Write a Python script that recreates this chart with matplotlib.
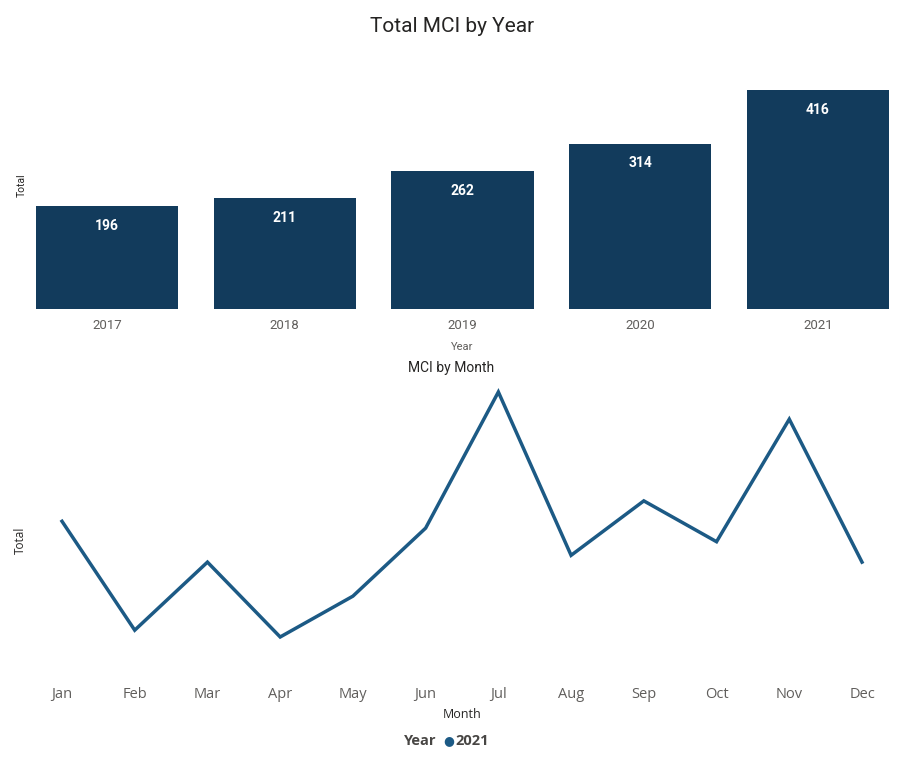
import matplotlib
matplotlib.use("Agg")
import matplotlib.pyplot as plt

years = ["2017", "2018", "2019", "2020", "2021"]
year_totals = [196, 211, 262, 314, 416]

months = ["Jan", "Feb", "Mar", "Apr", "May", "Jun", "Jul", "Aug", "Sep", "Oct", "Nov", "Dec"]
month_totals_2021 = [37, 21, 31, 20, 26, 36, 56, 32, 40, 34, 52, 31]

BAR_COLOR = "#123B5C"
LINE_COLOR = "#1C5A85"
TICK_COLOR = "#605E5C"
DARK = "#252423"

W, H = 897, 757
fig = plt.figure(figsize=(W / 100, H / 100), dpi=100)
fig.patch.set_facecolor("white")

def fx(px):
    return px / W

def fy(py):
    return 1 - py / H

# ---- Bar chart ----
ax1 = fig.add_axes([fx(36), fy(309), fx(889) - fx(36), (309 - 90) / H])
xs = range(len(years))
bars = ax1.bar(xs, year_totals, width=0.8, color=BAR_COLOR)
ax1.set_xlim(-0.4, len(years) - 0.6)
ax1.set_ylim(0, max(year_totals))
for b, v in zip(bars, year_totals):
    ax1.annotate(str(v), (b.get_x() + b.get_width() / 2, v), xytext=(0, -14.2),
                 textcoords="offset points", ha="center", va="center",
                 color="white", fontsize=10, fontweight="bold", family="Roboto")
ax1.set_xticks(list(xs))
ax1.set_xticklabels(years, fontsize=9.5, color=TICK_COLOR, family="Roboto")
ax1.tick_params(axis="x", length=0, pad=7)
ax1.set_yticks([])
for s in ax1.spines.values():
    s.set_visible(False)

fig.text(fx(452), fy(26), "Total MCI by Year", ha="center", va="center",
         fontsize=15, color=DARK, family="Roboto")
fig.text(fx(462), fy(347), "Year", ha="center", va="center",
         fontsize=8, color=TICK_COLOR, family="Roboto")
fig.text(fx(22), fy(185), "Total", ha="center", va="center", rotation=90,
         fontsize=7.5, color=DARK, family="Roboto")

# ---- Line chart ----
ax2 = fig.add_axes([fx(62), fy(680), fx(862) - fx(62), 300 / H])
mx = list(range(len(months)))
ax2.plot(mx, month_totals_2021, color=LINE_COLOR, linewidth=2.5, clip_on=False,
         solid_joinstyle="miter")
ax2.set_xlim(0, len(months) - 1)
ax2.set_ylim(13.68, 57.76)
ax2.set_xticks(mx)
ax2.set_xticklabels(months, fontsize=10.5, color=TICK_COLOR, family="Open Sans")
ax2.tick_params(axis="x", length=0, pad=5)
ax2.set_yticks([])
for s in ax2.spines.values():
    s.set_visible(False)

fig.text(fx(451), fy(368), "MCI by Month", ha="center", va="center",
         fontsize=10, color=DARK, family="Roboto")
fig.text(fx(462), fy(714), "Month", ha="center", va="center",
         fontsize=9, color=DARK, family="Open Sans")
fig.text(fx(20), fy(540), "Total", ha="center", va="center", rotation=90,
         fontsize=8.5, color=DARK, family="Open Sans")

# legend
fig.text(fx(436), fy(741), "Year", ha="right", va="center", fontsize=10.5,
         fontweight="bold", color="#484644", family="Open Sans")
fig.text(fx(449), fy(741), "\u25CF", ha="center", va="center", fontsize=9,
         color=LINE_COLOR, family="DejaVu Sans")
fig.text(fx(455), fy(741), "2021", ha="left", va="center", fontsize=10.5,
         fontweight="bold", color="#484644", family="Open Sans")

fig.savefig("out.png", dpi=100, facecolor="white")
